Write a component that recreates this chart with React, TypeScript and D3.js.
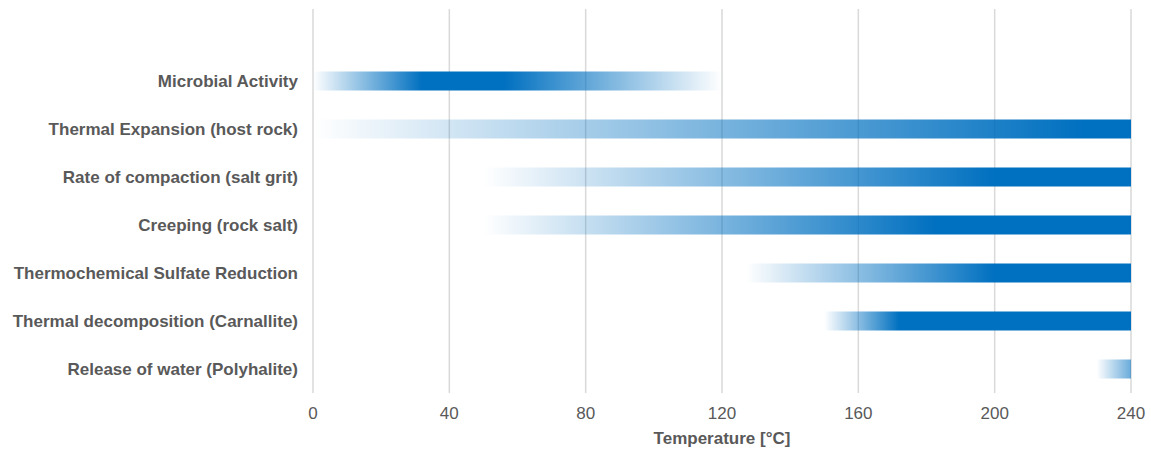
import React from "react";
import * as d3 from "d3";

// Categories (top to bottom), with one empty slot at the top of the category axis
const categories = [
  "Microbial Activity",
  "Thermal Expansion (host rock)",
  "Rate of compaction (salt grit)",
  "Creeping (rock salt)",
  "Thermochemical Sulfate Reduction",
  "Thermal decomposition (Carnallite)",
  "Release of water (Polyhalite)",
];
// Bar start / end temperatures (°C)
const barStart = [0, 0, 50, 50, 127, 150, 230];
const barEnd = [120, 240, 240, 240, 240, 240, 240];
// Temperature where the gradient reaches full colour, and where it starts fading again
const fullFrom = [32, 226, 200, 183, 200, 172, 247];
const fullTo = [56, 240, 240, 240, 240, 240, 247];

const xTicks = [0, 40, 80, 120, 160, 200, 240];
const xTitle = "Temperature [°C]";

const W = 1151;
const H = 451;
const BLUE = "#0070C0";
const TEXT = "#595959";
const FONT = "'Liberation Sans', Arial, sans-serif";

export default function App() {
  const x = d3.scaleLinear().domain([0, 240]).range([313, 1131]);
  const slots = ["", ...categories];
  const y = d3.scaleBand<string>().domain(slots).range([9, 393]).paddingInner(0.6).paddingOuter(0.3);
  const barH = 19;

  return (
    <svg
      width={W}
      height={H}
      style={{ position: "absolute", left: 0, top: 0, background: "#fff" }}
      fontFamily={FONT}
    >
      <defs>
        {categories.map((c, i) => {
          const s = barStart[i];
          const e = Math.max(barEnd[i], fullTo[i]);
          const span = e - s;
          const o1 = (fullFrom[i] - s) / span;
          const o2 = (fullTo[i] - s) / span;
          const fadeOut = fullTo[i] < barEnd[i];
          return (
            <linearGradient
              key={c}
              id={`g${i}`}
              gradientUnits="userSpaceOnUse"
              x1={x(s)}
              x2={x(e)}
              y1={0}
              y2={0}
            >
              <stop offset={0} stopColor={BLUE} stopOpacity={0} />
              <stop offset={o1} stopColor={BLUE} stopOpacity={1} />
              <stop offset={o2} stopColor={BLUE} stopOpacity={1} />
              <stop offset={1} stopColor={BLUE} stopOpacity={fadeOut ? 0 : 1} />
            </linearGradient>
          );
        })}
      </defs>

      {/* gridlines */}
      {xTicks.map((t) => (
        <line
          key={t}
          x1={x(t)}
          x2={x(t)}
          y1={9}
          y2={393}
          stroke="#d9d9d9"
          strokeWidth={1.5}
        />
      ))}

      {/* bars */}
      {categories.map((c, i) => {
        const cy = (y(c) as number) + y.bandwidth() / 2;
        return (
          <rect
            key={c}
            x={x(barStart[i])}
            width={x(barEnd[i]) - x(barStart[i])}
            y={cy - barH / 2}
            height={barH}
            fill={`url(#g${i})`}
          />
        );
      })}

      {/* category labels */}
      {categories.map((c) => {
        const cy = (y(c) as number) + y.bandwidth() / 2;
        return (
          <text
            key={c}
            x={298}
            y={cy}
            dy="0.35em"
            textAnchor="end"
            fontSize={17}
            fontWeight="bold"
            fill={TEXT}
          >
            {c}
          </text>
        );
      })}

      {/* tick labels */}
      {xTicks.map((t) => (
        <text
          key={t}
          x={x(t)}
          y={413}
          dy="0.35em"
          textAnchor="middle"
          fontSize={17}
          fill={TEXT}
        >
          {t}
        </text>
      ))}

      <text
        x={(x(0) + x(240)) / 2}
        y={438}
        dy="0.35em"
        textAnchor="middle"
        fontSize={17}
        fontWeight="bold"
        fill={TEXT}
      >
        {xTitle}
      </text>
    </svg>
  );
}
